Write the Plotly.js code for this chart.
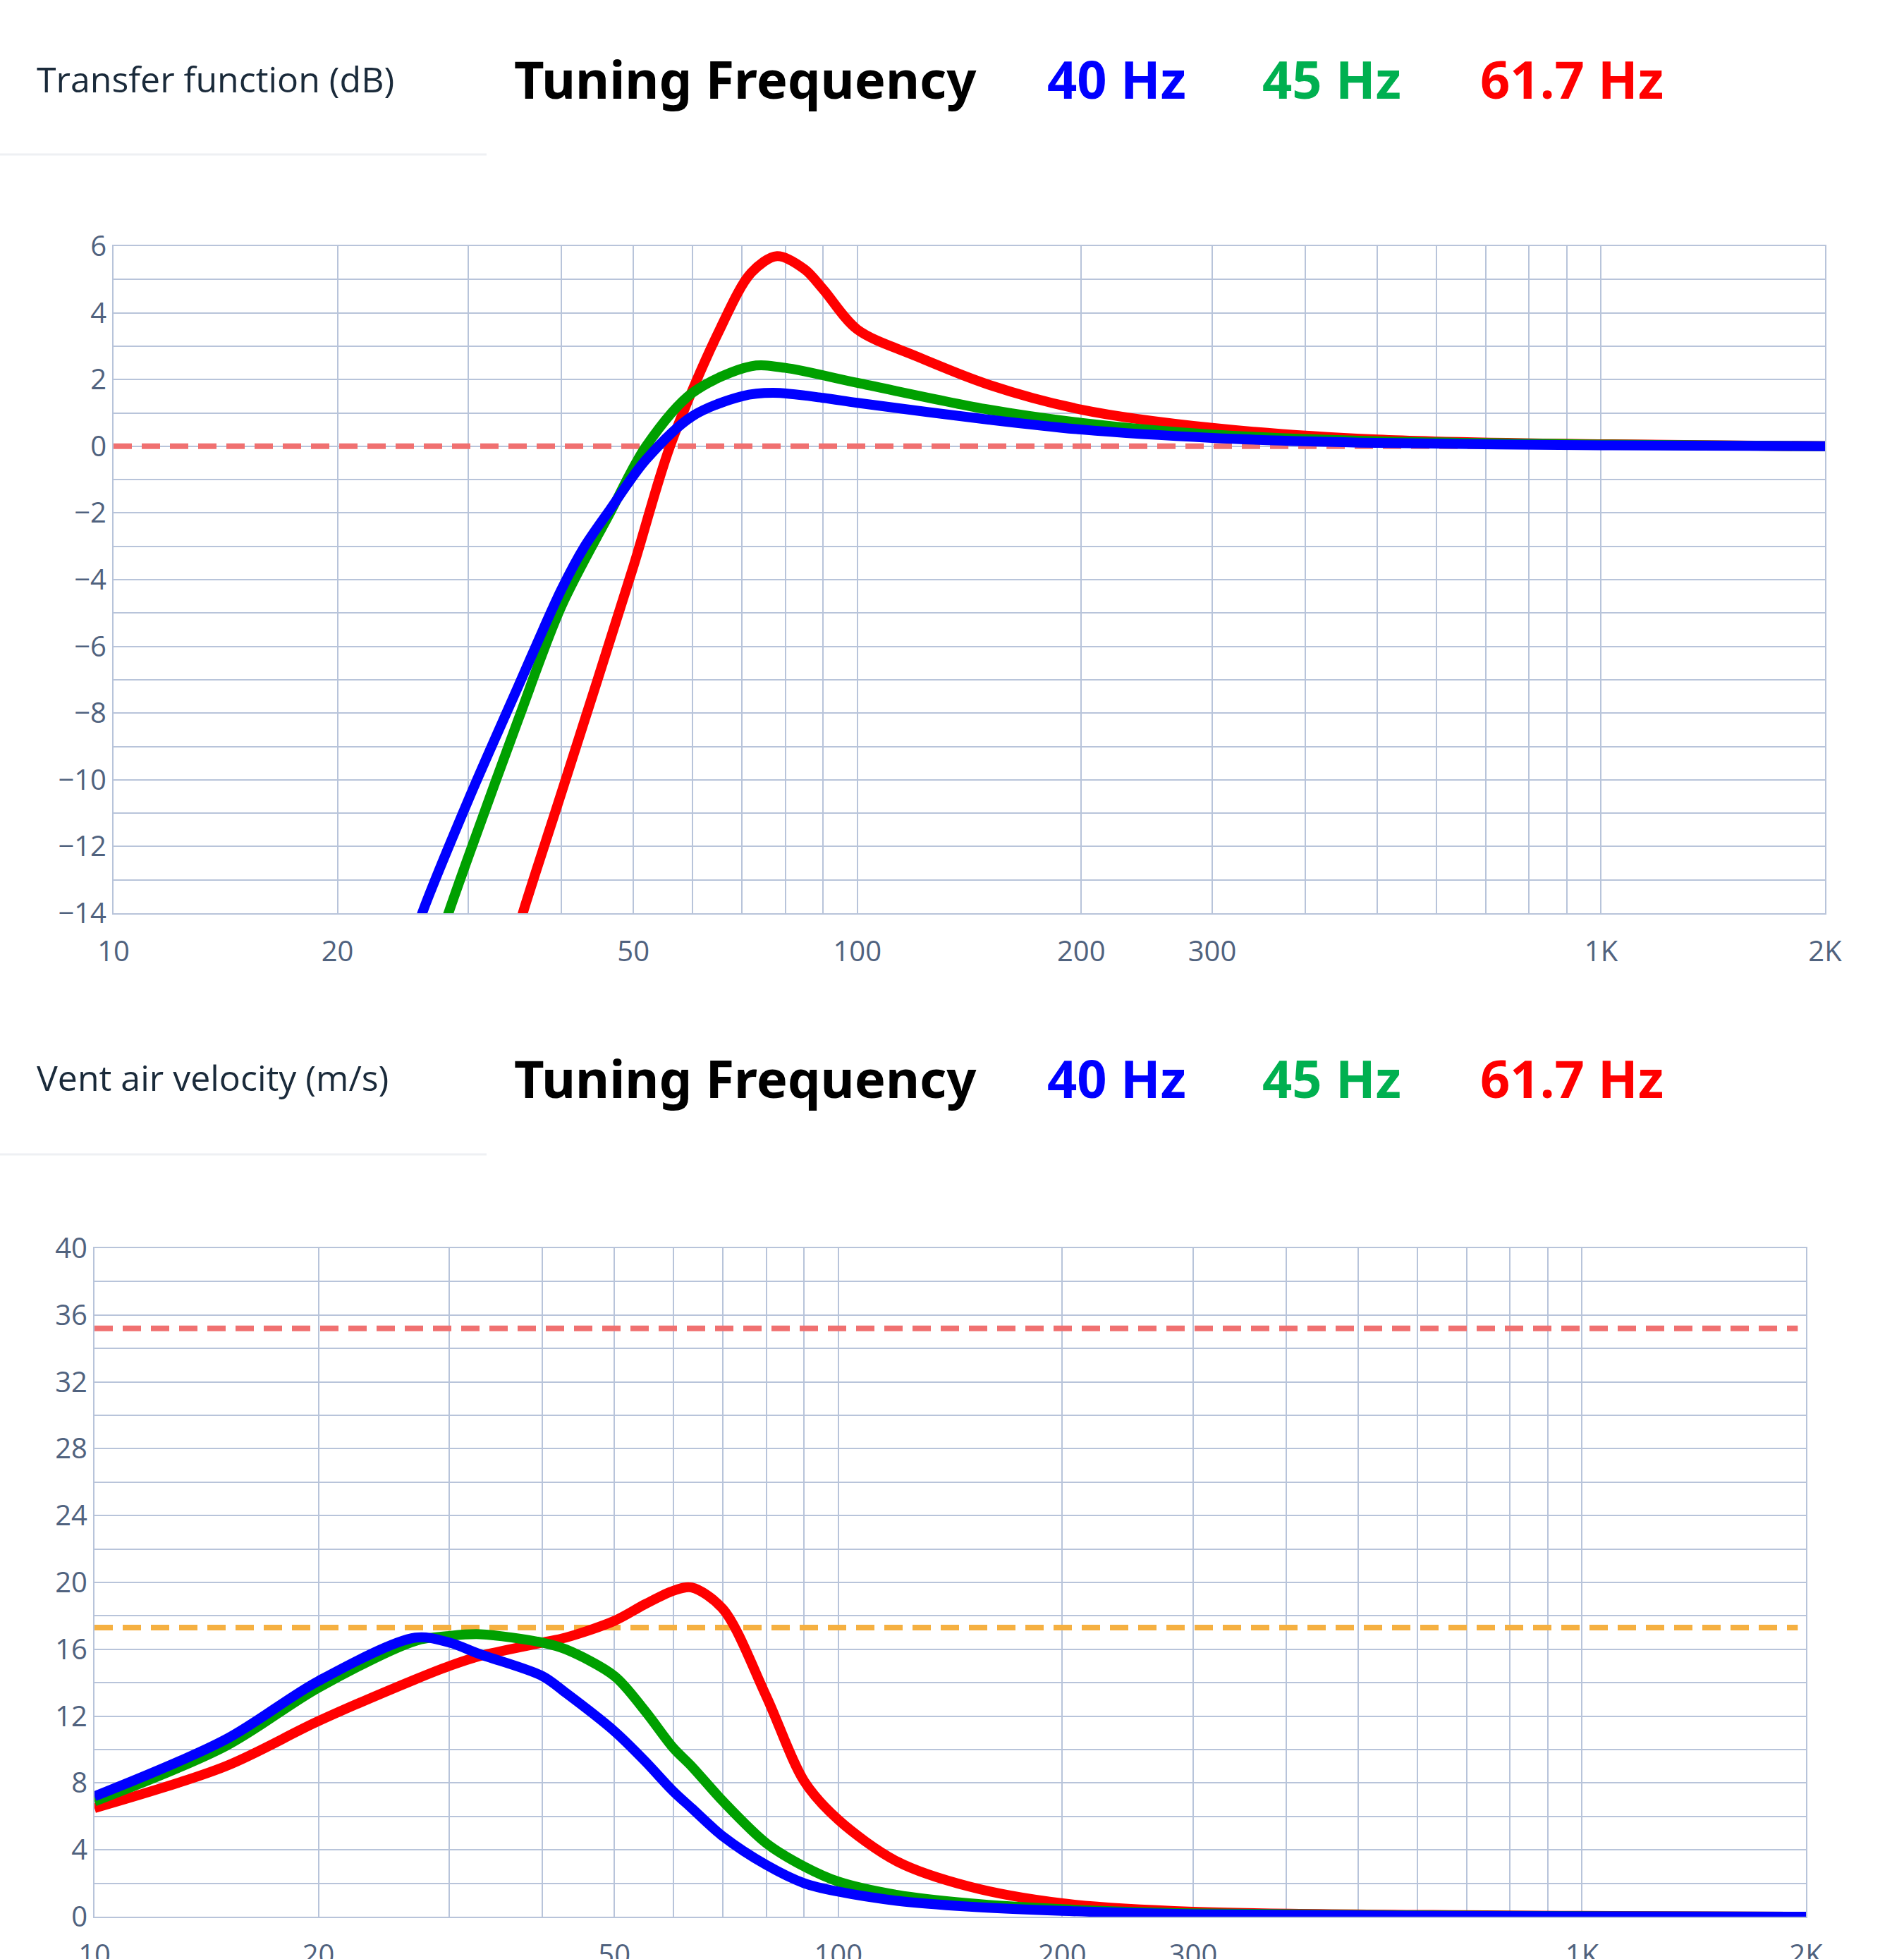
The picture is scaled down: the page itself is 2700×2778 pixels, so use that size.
<!DOCTYPE html>
<html>
<head>
<meta charset="utf-8">
<script src="https://cdn.plot.ly/plotly-3.0.1.min.js"></script>
<style>body{margin:0;background:#fff}</style>
</head>
<body>
<div id="chart" style="width:2700px;height:2778px"></div>
<script>
// grid positions on the log frequency axis, and which ones get a label
var gridHz = [10,20,30,40,50,60,70,80,90,100,200,300,400,500,600,700,800,900,1000,2000];
var labelHz = {10:'10', 20:'20', 50:'50', 100:'100', 200:'200', 300:'300', 1000:'1K', 2000:'2K'};

// transfer function (dB)
var tfHz40 = [25, 26, 30, 35, 40, 43, 46.5, 52, 60, 70, 77, 90, 100, 150, 200, 300, 500, 1000, 2000];
var tfDb40 = [-15.2, -14, -10.6, -7.2, -4.3, -3.0, -1.9, -0.4, 0.9, 1.5, 1.6, 1.45, 1.3, 0.8, 0.5, 0.25, 0.1, 0.03, 0];
var tfHz45 = [27, 28.2, 30, 35, 40, 46.5, 52, 60, 72, 80, 100, 150, 200, 300, 500, 1000, 2000];
var tfDb45 = [-15.3, -14, -12.3, -8.2, -4.8, -2.0, 0, 1.6, 2.4, 2.35, 1.9, 1.1, 0.7, 0.35, 0.15, 0.05, 0];
var tfHz617 = [34.5, 35.5, 40, 50, 56, 65, 72, 78, 85, 90, 100, 120, 150, 200, 300, 500, 1000, 2000];
var tfDb617 = [-15, -14, -10.4, -3.6, 0, 3.4, 5.2, 5.7, 5.3, 4.7, 3.5, 2.7, 1.85, 1.1, 0.55, 0.2, 0.06, 0];

// vent air velocity (m/s)
var vHz = [10, 15, 20, 27, 30, 33, 40, 43, 50, 55, 60, 63.5, 70, 80, 90, 100, 120, 150, 200, 300, 1000, 2000];
var vel40 = [7.2, 10.6, 14.1, 16.7, 16.4, 15.7, 14.4, 13.4, 11.1, 9.3, 7.5, 6.5, 4.8, 3.1, 2.0, 1.5, 0.95, 0.6, 0.35, 0.15, 0.02, 0];
var vel45 = [6.9, 10.2, 13.7, 16.5, 16.8, 16.9, 16.4, 16.0, 14.4, 12.3, 10.1, 9.0, 6.9, 4.4, 3.0, 2.1, 1.3, 0.8, 0.45, 0.2, 0.03, 0];
var vel617 = [6.5, 9.0, 11.7, 14.2, 15.0, 15.6, 16.4, 16.7, 17.7, 18.7, 19.5, 19.7, 18.4, 13.2, 8.1, 5.8, 3.3, 1.8, 0.8, 0.3, 0.05, 0];
var velLimitRed = 35.2;
var velLimitOrange = 17.3;

var blue = '#0000ff', green = '#00a000', red = '#ff0000';

function curve(x, y, color, xa, ya) {
    return {x: x, y: y, mode: 'lines', line: {color: color, width: 14, shape: 'spline', smoothing: 0.9},
            xaxis: xa, yaxis: ya, hoverinfo: 'skip'};
}
function flat(v, color, xa, ya) {
    return {x: [10, 1950], y: [v, v], mode: 'lines', line: {color: color, width: 8, dash: '26px,14px'},
            xaxis: xa, yaxis: ya, hoverinfo: 'skip'};
}

var data = [
    flat(0, '#f07070', 'x', 'y'),
    curve(tfHz617, tfDb617, red, 'x', 'y'),
    curve(tfHz45, tfDb45, green, 'x', 'y'),
    curve(tfHz40, tfDb40, blue, 'x', 'y'),
    flat(velLimitRed, '#f07070', 'x2', 'y2'),
    flat(velLimitOrange, '#f5b041', 'x2', 'y2'),
    curve(vHz, vel617, red, 'x2', 'y2'),
    curve(vHz, vel45, green, 'x2', 'y2'),
    curve(vHz, vel40, blue, 'x2', 'y2')
];

var gridCol = '#b8c4da';
function xax(dom) {
    return {type: 'log', domain: dom, range: [1, Math.log10(2000)],
            tickmode: 'array', tickvals: gridHz,
            ticktext: gridHz.map(function (h) { return labelHz[h] || ''; }),
            showgrid: true, gridcolor: gridCol, gridwidth: 2, zeroline: false,
            showline: true, linecolor: gridCol, linewidth: 2, mirror: true,
            ticks: '', ticklen: 0, ticklabelstandoff: 18,
            tickfont: {family: 'Open Sans', size: 40, color: '#50627e'}};
}
function yax(dom, lo, hi, step, lab) {
    var v = [], t = [];
    for (var k = lo; k <= hi + 1e-9; k += step) { v.push(k); t.push(Math.round(k) % lab === 0 ? String(k).replace('-', '\u2212') : ''); }
    return {domain: dom, range: [lo, hi], tickmode: 'array', tickvals: v, ticktext: t,
            showgrid: true, gridcolor: gridCol, gridwidth: 2, zeroline: false,
            showline: true, linecolor: gridCol, linewidth: 2, mirror: true,
            ticks: '', tickfont: {family: 'Open Sans', size: 40, color: '#50627e'}};
}

var hdr = {family: 'Noto Sans', size: 74};
function header(y, label) {
    return [
        {text: label, x: 50, y: y, xanchor: 'left', font: {family: 'Open Sans', size: 50, color: '#1a2a3a'}},
        {text: '<b>Tuning Frequency</b>', x: 727, y: y, xanchor: 'left', font: Object.assign({color: '#000'}, hdr)},
        {text: '<b>40 Hz</b>', x: 1483, y: y, xanchor: 'left', font: Object.assign({color: blue}, hdr)},
        {text: '<b>45 Hz</b>', x: 1788, y: y, xanchor: 'left', font: Object.assign({color: '#00b050'}, hdr)},
        {text: '<b>61.7 Hz</b>', x: 2097, y: y, xanchor: 'left', font: Object.assign({color: red}, hdr)}
    ];
}
var ann = header(112, 'Transfer function (dB)').concat(header(1528, 'Vent air velocity (m/s)'));
ann.forEach(function (a) {
    a.xref = 'paper'; a.yref = 'paper'; a.x = a.x / 2700; a.y = 1 - a.y / 2778;
    a.yanchor = 'middle'; a.showarrow = false;
});

var layout = {
    width: 2700, height: 2778,
    margin: {l: 0, r: 0, t: 0, b: 0},
    paper_bgcolor: '#fff', plot_bgcolor: '#fff',
    showlegend: false,
    xaxis: xax([161 / 2700, 2588 / 2700]),
    yaxis: yax([1 - 1295 / 2778, 1 - 349 / 2778], -14, 6, 1, 2),
    xaxis2: xax([134 / 2700, 2561 / 2700]),
    yaxis2: yax([1 - 2718 / 2778, 1 - 1770 / 2778], 0, 40, 2, 4),
    annotations: ann,
    shapes: [
        {type: 'line', xref: 'paper', yref: 'paper', x0: 0, x1: 690 / 2700, y0: 1 - 219 / 2778, y1: 1 - 219 / 2778, line: {color: '#eef0f3', width: 3}},
        {type: 'line', xref: 'paper', yref: 'paper', x0: 0, x1: 690 / 2700, y0: 1 - 1637 / 2778, y1: 1 - 1637 / 2778, line: {color: '#eef0f3', width: 3}}
    ]
};
layout.xaxis2.anchor = 'y2';
layout.yaxis2.anchor = 'x2';

Plotly.newPlot('chart', data, layout, {responsive: false, displayModeBar: false});
</script>
</body>
</html>
